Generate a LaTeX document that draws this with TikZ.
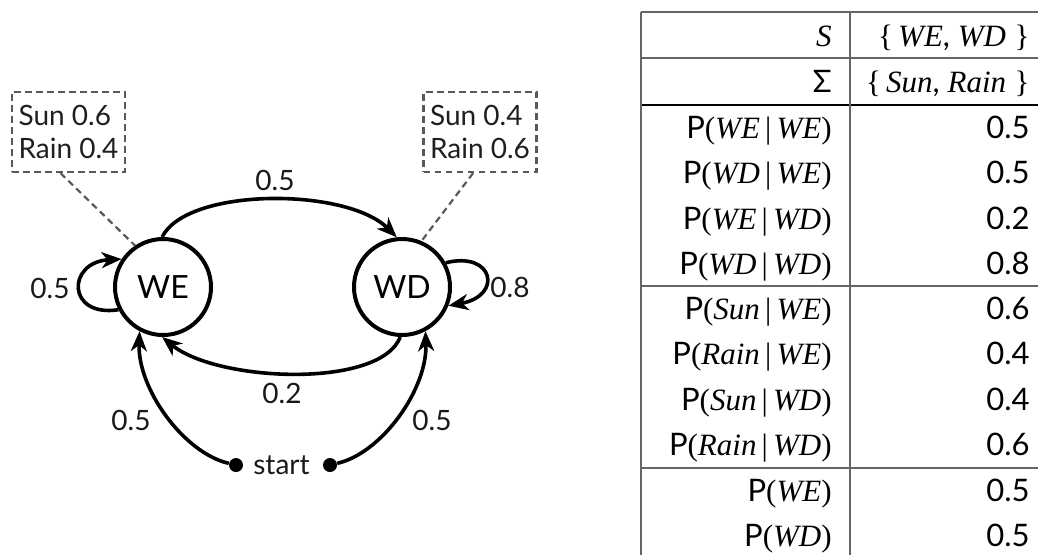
\documentclass[tikz,border=0pt]{standalone}
\usepackage{fontspec}
\setmainfont{Lato}
\newfontfamily\serfont{Liberation Serif}
\usetikzlibrary{arrows.meta,calc}

% table typesetting helpers
\newcommand\sr[1]{{\serfont #1}}
\newcommand\iv[1]{{\serfont\itshape #1}}
\newcommand\pr[1]{P\sr{(}#1\sr{)}}
\newcommand\cnd[2]{\pr{\iv{#1}\,\sr{|}\,\iv{#2}}}

\begin{document}
\begin{tikzpicture}[x=0.5pt,y=-0.5pt,
  state/.style={circle,draw,line width=2pt,minimum size=48pt,inner sep=0pt,
    font=\fontsize{16}{18}\selectfont},
  trans/.style={line width=1.8pt,-{Stealth[length=10pt,width=8pt,inset=3pt]}},
  lbl/.style={inner sep=0pt,text=black!90,font=\fontsize{14}{16}\selectfont},
  emis/.style={draw=black!65,line width=1.1pt,dash pattern=on 3.3pt off 2.2pt,
    align=left,inner sep=0pt,minimum width=56.5pt,minimum height=40pt,
    font=\fontsize{14}{16.5}\selectfont,text=black!88},
  link/.style={draw=black!65,line width=1.1pt,dash pattern=on 3.3pt off 2.2pt},
  dot/.style={circle,fill,inner sep=0pt,minimum size=7pt},
  rule/.style={draw=black!60,line width=0.6pt},
  cell/.style={anchor=base east,inner sep=0pt,font=\fontsize{15.5}{18}\selectfont}]

\useasboundingbox (0,0) rectangle (1038,554);

% ---------- state diagram ----------
\node[state] (WE) at (163,287) {WE};
\node[state] (WD) at (402,287) {WD};

\node[emis] (eWE) at (68.5,132) {Sun 0.6\\Rain 0.4};
\node[emis] (eWD) at (480,132) {Sun 0.4\\Rain 0.6};

\node[dot] (s1) at (236,465) {};
\node[dot] (s2) at (330,465) {};
\node[lbl] (st) at (281.5,465) {start};

% emission links
\draw[link] ($(eWE.south west)!0.43!(eWE.south east)$) -- (WE.124);
\draw[link] ($(eWD.south west)!0.44!(eWD.south east)$) -- (WD.67);

% transitions
\draw[trans] (WE.91) .. controls +(25,-50) and +(-50,-50) .. (WD.96);
\draw[trans] (WD.268) .. controls +(-20,52) and +(55,45) .. (WE.269);
\draw[trans] (WE.207) .. controls +(-52,8) and +(-55,3) .. (WE.146);
\draw[trans] (WD.29) .. controls +(48,-12) and +(55,-10) .. (WD.338);
\draw[trans] (s1) .. controls +(-52,-12) and +(-2,58) .. (WE.242);
\draw[trans] (s2) .. controls +(52,-12) and +(2,58) .. (WD.298);

% transition probabilities
\node[lbl] (pWEWD) at (275,180) {0.5};
\node[lbl] (pWDWE) at (282,393) {0.2};
\node[lbl] (pWEWE) at (50,288) {0.5};
\node[lbl] (pWDWD) at (510,287) {0.8};
\node[lbl] (pIWE) at (131,420) {0.5};
\node[lbl] (pIWD) at (432,420) {0.5};

% ---------- parameter table ----------
\draw[rule] (641,12) -- (1100,12);
\draw[rule] (641,58) -- (1100,58);
\draw[line width=0.6pt] (641,105) -- (1100,105);
\draw[rule] (641,286) -- (1100,286);
\draw[rule] (641,468) -- (1100,468);
\draw[rule] (641,12) -- (641,600);
\draw[rule] (850,12) -- (850,600);

\node[cell] (k1) at (832,46) {\iv{S}};
\node[cell] (k2) at (832,92.3) {Σ};
\node[cell] (k3) at (832,138.5) {\cnd{WE}{WE}};
\node[cell] (k4) at (832,183.7) {\cnd{WD}{WE}};
\node[cell] (k5) at (832,229) {\cnd{WE}{WD}};
\node[cell] (k6) at (832,274.2) {\cnd{WD}{WD}};
\node[cell] (k7) at (832,319.5) {\cnd{Sun}{WE}};
\node[cell] (k8) at (832,364.7) {\cnd{Rain}{WE}};
\node[cell] (k9) at (832,410) {\cnd{Sun}{WD}};
\node[cell] (k10) at (832,455.2) {\cnd{Rain}{WD}};
\node[cell] (k11) at (832,501.5) {\pr{\iv{WE}}};
\node[cell] (k12) at (832,546.7) {\pr{\iv{WD}}};

\node[cell] (v1) at (1030,46) {\sr{\{}\,\iv{WE}, \iv{WD}\;\sr{\}}};
\node[cell] (v2) at (1030,92.3) {\sr{\{}\,\iv{Sun}, \iv{Rain}\;\sr{\}}};
\node[cell] (v3) at (1030,138.5) {0.5};
\node[cell] (v4) at (1030,183.7) {0.5};
\node[cell] (v5) at (1030,229) {0.2};
\node[cell] (v6) at (1030,274.2) {0.8};
\node[cell] (v7) at (1030,319.5) {0.6};
\node[cell] (v8) at (1030,364.7) {0.4};
\node[cell] (v9) at (1030,410) {0.4};
\node[cell] (v10) at (1030,455.2) {0.6};
\node[cell] (v11) at (1030,501.5) {0.5};
\node[cell] (v12) at (1030,546.7) {0.5};
\end{tikzpicture}
\end{document}
